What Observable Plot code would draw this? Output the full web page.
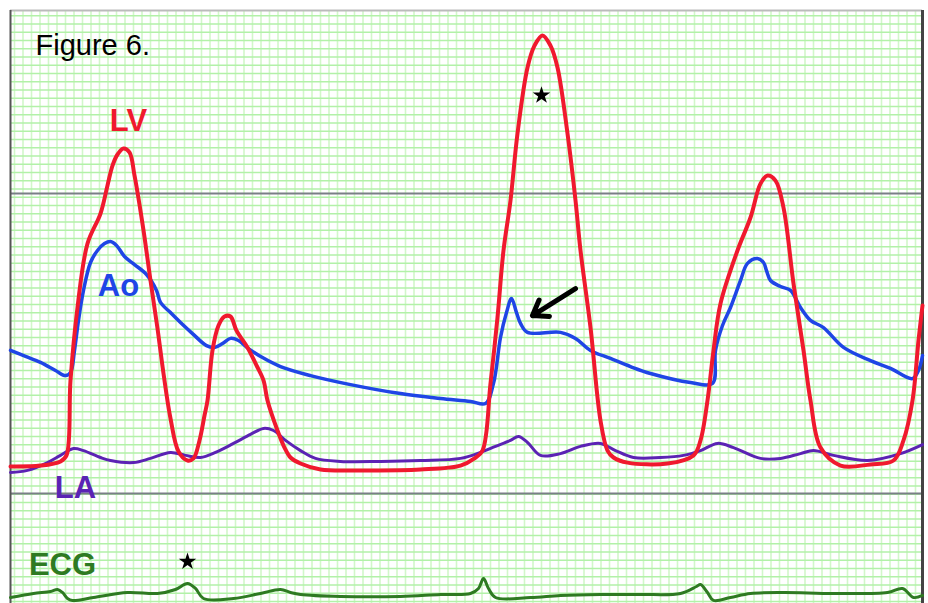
<!DOCTYPE html>
<html>
<head>
<meta charset="utf-8">
<script src="https://cdn.jsdelivr.net/npm/d3@7"></script>
<script src="https://cdn.jsdelivr.net/npm/@observablehq/plot@0.6"></script>
<style>
  html, body { margin: 0; padding: 0; background: #fff; }
  svg { display: block; }
</style>
</head>
<body>
<div id="chart"></div>
<script>
const lvT = [0,30,50,56,60,67,77,90,97,102,107,113,119,124,133,140,147,153,160,168,177,183,189,194,197,202,208,214,220,226,237,246,253,257,267,274,280,290,310,350,410,450,464,472,480,487,493,500,507,517,524,532,540,547,557,565,570,580,590,597,603,617,657,683,690,697,703,710,727,740,750,757,765,773,783,793,800,810,830,860,883,893,902,908,912];
const lvP = [9,9.3,10.7,12.7,37.7,62,83.3,93.3,102.7,109.3,113,115,113.7,106,87.7,71,55,40,25,14,11,11.7,17.7,26,31,47.7,56,59,59,54.3,48.7,42.7,37.7,31,21,15.3,12,10,8,7.7,8,9.3,11.7,14.3,36.7,58.7,81,97.7,120,142,149.3,152.7,149.3,142,120,97.7,81,55.3,24.3,14.3,12,10.3,10,12.7,17.7,31,47.7,63.3,81,92,103.3,106,104.3,95.3,70,47.7,31,15.3,9.3,9.7,11,17.7,31,51,62.7];

const aoT = [0,15,30,45,55,60,64,68,73,80,87,94,100,106,114,124,136,146,150,160,170,182,196,204,212,220,228,238,252,270,300,340,390,430,460,475,483,490,496,501,506,510,517,550,565,580,600,620,640,680,702,705,712,720,730,737,747,753,756,760,770,780,790,800,813,833,860,880,902,908,912];
const aoP = [47.7,45.7,43.7,41,39.3,40.3,47.7,57.7,67.7,77,81,83.3,84,82.7,79,76.3,73,67.7,63.7,60.3,57,53.3,49.3,48.7,50,51.7,51,48.3,45.3,42.3,39.3,36.3,33.3,31.7,30.7,30,36.7,52,60.3,65,60.3,56.7,53.7,53.7,51.7,47.7,45,42.3,40,37,36.7,47.7,56,62,71,76.7,78.3,77,74.3,71,69,67.7,62,57.7,55.3,48.7,44.3,41.7,38.3,41,46];

const laT = [0,17,37,50,63,73,90,100,123,140,160,175,190,205,223,240,253,263,275,290,305,330,370,410,450,470,485,500,508,517,530,550,570,590,605,623,650,673,690,707,723,750,770,790,803,823,857,890,912];
const laP = [7,7.7,10.3,12.7,15,14.3,12,11,10.3,11.7,13.7,12.7,12,13.7,16.7,19.7,21.7,21,17.7,14.3,11.7,10.7,10.7,11,11.7,13.7,15.7,17.7,19,17,12.7,13.3,15.7,16.7,14.3,12,12,12.7,14.3,16.7,15.3,11.7,11.7,13.3,14.3,12.7,11,13.3,16.3];

// ECG in mV, drawn in its own strip below the pressure traces
const ecgT = [0,23,40,47,52,57,62,83,117,147,165,177,185,193,223,250,270,280,290,330,390,430,460,468,473,478,485,520,550,590,630,670,686,690,697,703,720,740,773,823,877,892,903,912];
const ecgMV = [-0.1,0.3,0.5,0.7,0.4,-0.2,-0.4,-0.1,0.4,0.3,0.7,1.3,0.8,-0.2,-0.2,0.3,0.7,0.4,0.2,0,0,0.2,0.3,0.8,1.8,0.8,-0.1,-0.1,0.1,0.2,0.2,0.3,1.0,1.2,0.4,-0.4,-0.1,0.3,0.4,0.3,0.4,0.8,-0.1,0.1];
const ecgBase = -34.33, ecgGain = 3.33;

const refLevels = [0, 100];            // mmHg reference lines
const labelText = ["LV", "Ao", "LA", "ECG"];
const labelT = [118, 108, 65, 52];
const labelP = [124.3, 69.3, 1.7, -24];
const labelColor = ["#f0192e", "#1f45e6", "#5b23b4", "#2e7a22"];
const starT = [531, 177];
const starP = [132.7, -22.7];
const arrowFrom = [565, 68.3], arrowTo = [522, 59.3];
const titleText = "Figure 6.";

const series = (T, P) => T.map((t, i) => ({t, p: P[i]}));
const lv = series(lvT, lvP), ao = series(aoT, aoP), la = series(laT, laP);
const ecg = ecgT.map((t, i) => ({t, p: ecgBase + ecgGain * ecgMV[i]}));
const labels = labelText.map((s, i) => ({s, t: labelT[i], p: labelP[i], c: labelColor[i]}));
const stars = starT.map((t, i) => ({t, p: starP[i]}));

// chart-paper grid
const gridX = d3.range(4, 912, 8.5);
const gridY = d3.range(-36, 161, 2.75);

const chart = Plot.plot({
  width: 928, height: 603,
  marginLeft: 10, marginRight: 6, marginTop: 10, marginBottom: 0,
  x: {domain: [0, 912], axis: null},
  y: {domain: [-36.67, 161], axis: null},
  style: {background: "#fff", fontFamily: "'Liberation Sans', Arial, sans-serif"},
  marks: [
    Plot.ruleX(gridX, {x: d => d, stroke: "#d2f7ca", strokeWidth: 1.6}),
    Plot.ruleY(gridY, {y: d => d, stroke: "#b2f1a8", strokeWidth: 1.4}),
    Plot.ruleY(refLevels, {y: d => d, stroke: "#7a7f86", strokeWidth: 2}),
    Plot.ruleY([161], {y: d => d, stroke: "#bbbbbb", strokeWidth: 2}),
    Plot.ruleX([0], {x: d => d, stroke: "#555", strokeWidth: 2}),
    Plot.ruleX([912], {x: d => d, stroke: "#444", strokeWidth: 3}),
    Plot.line(la, {x: "t", y: "p", stroke: "#5b23b4", strokeWidth: 3, curve: "catmull-rom"}),
    Plot.line(ao, {x: "t", y: "p", stroke: "#1f45e6", strokeWidth: 3.5, curve: "catmull-rom"}),
    Plot.line(lv, {x: "t", y: "p", stroke: "#f0192e", strokeWidth: 4, curve: "catmull-rom"}),
    Plot.line(ecg, {x: "t", y: "p", stroke: "#2e7a22", strokeWidth: 3, curve: "catmull-rom"}),
    Plot.text(labels, {x: "t", y: "p", text: "s", fill: "c", fontSize: 31, fontWeight: "bold"}),
    Plot.text([titleText], {x: 25, y: 149.3, text: d => d, fill: "#000", fontSize: 29, textAnchor: "start"}),
    Plot.dot(stars, {x: "t", y: "p", symbol: "star", r: 5.5, fill: "#000"}),
    Plot.arrow([{x1: arrowFrom[0], y1: arrowFrom[1], x2: arrowTo[0], y2: arrowTo[1]}],
      {x1: "x1", y1: "y1", x2: "x2", y2: "y2", stroke: "#000", strokeWidth: 5, headLength: 14, headAngle: 70, bend: false})
  ]
});
document.getElementById("chart").append(chart);
</script>
</body>
</html>
